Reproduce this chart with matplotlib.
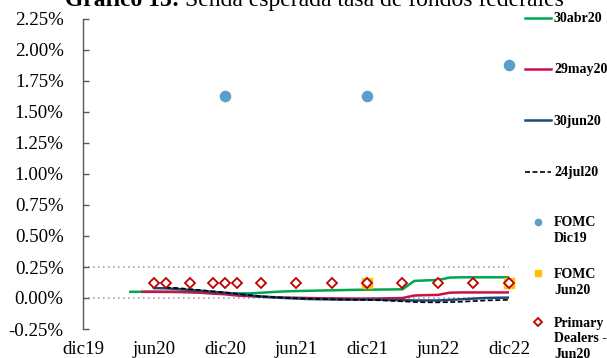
import matplotlib
matplotlib.use("Agg")
import matplotlib.pyplot as plt
from matplotlib.lines import Line2D

plt.rcParams['font.family'] = ['Liberation Serif', 'DejaVu Serif']

# months counted from dic19 (0) to dic22 (36)
tick_pos = [0, 6, 12, 18, 24, 30, 36]
tick_lbl = ["dic19", "jun20", "dic20", "jun21", "dic21", "jun22", "dic22"]

abr20_x = list(range(4, 37))
abr20_y = [0.050, 0.050, 0.050, 0.049, 0.048, 0.046, 0.044, 0.042, 0.040,
           0.037, 0.037, 0.042, 0.048, 0.053, 0.056, 0.058, 0.060, 0.062,
           0.064, 0.066, 0.067, 0.068, 0.069, 0.070, 0.138, 0.142, 0.145,
           0.165, 0.167, 0.167, 0.167, 0.167, 0.167]

may20_x = list(range(5, 37))
may20_y = [0.050, 0.050, 0.050, 0.050, 0.048, 0.042, 0.035, 0.030, 0.020,
           0.015, 0.010, 0.007, 0.004, 0.002, 0.000, -0.002, -0.003, -0.004,
           -0.005, -0.005, -0.004, -0.002, 0.000, 0.020, 0.023, 0.025,
           0.043, 0.045, 0.045, 0.045, 0.045, 0.045]

jun20_x = list(range(6, 37))
jun20_y = [0.080, 0.078, 0.072, 0.065, 0.058, 0.050, 0.042, 0.033, 0.022,
           0.012, 0.006, 0.000, -0.004, -0.008, -0.010, -0.012, -0.013,
           -0.013, -0.013, -0.014, -0.016, -0.018, -0.020, -0.020, -0.020,
           -0.015, -0.010, -0.005, 0.000, 0.002, 0.003]

jul20_x = list(range(7, 37))
jul20_y = [0.085, 0.080, 0.072, 0.063, 0.053, 0.044, 0.034, 0.024, 0.014,
           0.007, 0.002, -0.002, -0.005, -0.008, -0.010, -0.012, -0.014,
           -0.015, -0.018, -0.022, -0.027, -0.032, -0.035, -0.035, -0.033,
           -0.030, -0.025, -0.020, -0.017, -0.015]

fomc19_x = [12, 24, 36]
fomc19_y = [1.625, 1.625, 1.875]

fomc20_x = [24, 36]
fomc20_y = [0.125, 0.125]

dealers_x = [6, 7, 9, 11, 12, 13, 15, 18, 21, 24, 27, 30, 33, 36]
dealers_y = [0.125] * len(dealers_x)

c_green = "#00A651"
c_red = "#CC1144"
c_navy = "#174A7C"
c_dot = "#5A9FCC"
c_yel = "#FFC000"
c_dia = "#C00000"

W, H = 607, 358
fig = plt.figure(figsize=(W / 100, H / 100), dpi=100)
ax = fig.add_axes([83 / W, 1 - 329 / H, (509 - 83) / W, (329 - 19) / H])

ax.axhline(0.0, color="#A6A6A6", lw=1.2, ls=(0, (1, 2)), zorder=1)
ax.axhline(0.25, color="#A6A6A6", lw=1.2, ls=(0, (1, 2)), zorder=1)

ax.plot(abr20_x, abr20_y, color=c_green, lw=1.8, zorder=3)
ax.plot(may20_x, may20_y, color=c_red, lw=1.8, zorder=3)
ax.plot(jun20_x, jun20_y, color=c_navy, lw=1.8, zorder=3)
ax.plot(jul20_x, jul20_y, color="black", lw=1.2, ls=(0, (3, 1.5)), zorder=4)

ax.plot(fomc19_x, fomc19_y, ls="none", marker="o", ms=7.3, color=c_dot,
        clip_on=False, zorder=5)
ax.plot(fomc20_x, fomc20_y, ls="none", marker="s", ms=7, color=c_yel,
        clip_on=False, zorder=5)
ax.plot(dealers_x, dealers_y, ls="none", marker="D", ms=5.2, mfc="white",
        mec=c_dia, mew=1.3, clip_on=False, zorder=6)

ax.set_xlim(0, 36)
ax.set_ylim(-0.25, 2.25)
ax.set_yticks([-0.25 + 0.25 * i for i in range(11)])
ax.set_yticklabels([f"{-0.25 + 0.25 * i:.2f}%" for i in range(11)], fontsize=13.6)
ax.set_xticks(tick_pos)
ax.set_xticklabels(tick_lbl, fontsize=13.6)

for s in ["top", "right", "bottom"]:
    ax.spines[s].set_visible(False)
ax.spines["left"].set_color("#595959")
ax.spines["left"].set_linewidth(1.0)
ax.tick_params(axis="y", direction="in", length=4.5, width=1.0,
               color="#595959", pad=14)
ax.tick_params(axis="x", length=0, pad=9)

# title, bold prefix + plain text
fig.text(180 / W, 1 - 6 / H, "Gráfico 13:", fontsize=17, fontweight="bold",
         ha="right", va="baseline")
fig.text(185 / W, 1 - 6 / H, "Senda esperada tasa de fondos federales",
         fontsize=17, ha="left", va="baseline")

# legend on the right side
entries = [
    ("line", dict(color=c_green, lw=1.8), ["30abr20"], 18),
    ("line", dict(color=c_red, lw=1.8), ["29may20"], 69),
    ("line", dict(color=c_navy, lw=1.8), ["30jun20"], 120),
    ("line", dict(color="black", lw=1.2, ls=(0, (3, 1.5))), ["24jul20"], 172),
    ("mark", dict(marker="o", ms=4.5, color=c_dot, ls="none"),
     ["FOMC", "Dic19"], 222),
    ("mark", dict(marker="s", ms=4.5, color=c_yel, ls="none"),
     ["FOMC", "Jun20"], 273),
    ("mark", dict(marker="D", ms=3.8, mfc="white", mec=c_dia, mew=1.3,
                  ls="none"), ["Primary", "Dealers -", "Jun20"], 322),
]
for kind, style, lines, yc in entries:
    yf = 1 - yc / H
    if kind == "line":
        fig.add_artist(Line2D([525 / W, 551 / W], [yf, yf], **style))
    else:
        fig.add_artist(Line2D([538 / W], [yf], **style))
    for i, t in enumerate(lines):
        fig.text(554 / W, 1 - (yc + 4.5 + 16 * i) / H, t, fontsize=10,
                 fontweight="bold", ha="left", va="baseline")

fig.savefig("out.png", dpi=100)
